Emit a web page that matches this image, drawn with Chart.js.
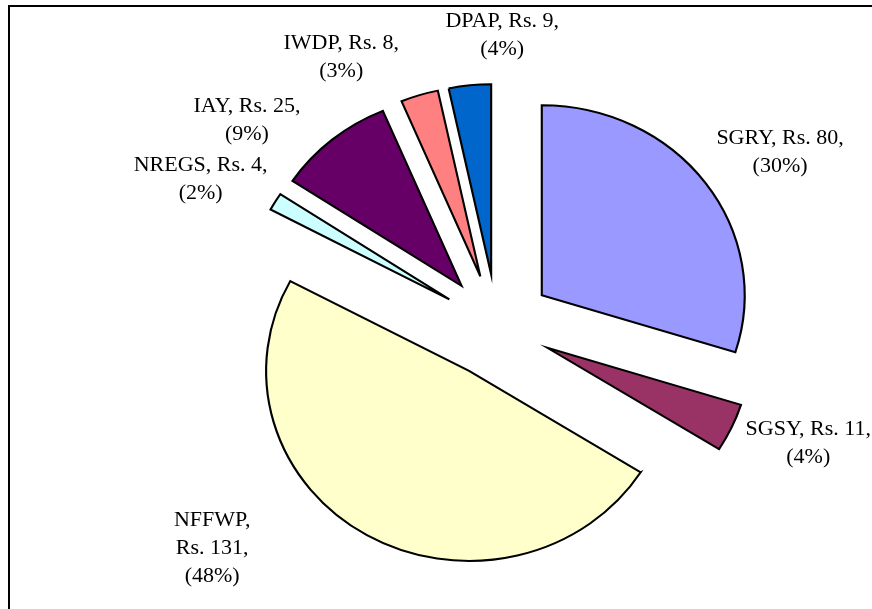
<!DOCTYPE html>
<html>
<head>
<meta charset="utf-8">
<script src="https://cdn.jsdelivr.net/npm/chart.js@4.4.1/dist/chart.umd.min.js"></script>
<style>
  html, body { margin: 0; padding: 0; background: #fff; overflow: hidden; }
  #wrap { position: relative; width: 872px; height: 609px; }
  #frame { position: absolute; left: 8px; top: 5px; width: 900px; height: 700px; border: 2px solid #000; }
  canvas { position: absolute; left: 0; top: 0; }
</style>
</head>
<body>
<div id="wrap">
  <div id="frame"></div>
  <canvas id="pie" width="872" height="609"></canvas>
</div>
<script>
// Spesa per programma (Rs.), fetta per fetta a partire da ore 12 in senso orario
const schemes = ["SGRY", "SGSY", "NFFWP", "NREGS", "IAY", "IWDP", "DPAP"];
const amounts = [80, 11, 131, 4, 25, 8, 9];
const shares = [30, 4, 48, 2, 9, 3, 4]; // percentuali come stampate sul grafico
const sliceColors = ["#9999FF", "#993366", "#FFFFCC", "#CCFFFF", "#660066", "#FF8080", "#0066CC"];

const RADIUS = 190;
const EXPLODE = 52;      // spostamento di ogni fetta, px
const X_STRETCH = 1.068; // il pie originale e' leggermente ellittico
// posizione delle etichette: [scarto angolo in gradi, distanza dal centro]
const LABEL_PLACE = [[3, 317], [-3, 314], [20, 347], [-3, 314], [-9, 312], [-11, 306], [7, 291]];

function labelLines(i) {
  if (schemes[i] === "NFFWP") {
    return [`${schemes[i]},`, `Rs. ${amounts[i]},`, `(${shares[i]}%)`];
  }
  return [`${schemes[i]}, Rs. ${amounts[i]},`, `(${shares[i]}%)`];
}

// L'offset nativo di Chart.js (pensato per l'hover) restringe le fette piccole,
// quindi l'esplosione stile Excel la facciamo qui: ogni arco viene spostato
// lungo la bisettrice e poi disegnato dal suo stesso elemento.
const excelPie = {
  id: "excelPie",
  beforeDatasetsDraw(chart) {
    const ctx = chart.ctx;
    const arcs = chart.getDatasetMeta(0).data;
    const cx = arcs[0].x, cy = arcs[0].y;
    ctx.save();
    ctx.translate(cx, cy);
    ctx.scale(X_STRETCH, 1);
    ctx.translate(-cx, -cy);
    arcs.forEach(a => {
      const half = (a.startAngle + a.endAngle) / 2;
      ctx.save();
      ctx.translate(Math.cos(half) * EXPLODE, Math.sin(half) * EXPLODE);
      a.draw(ctx);
      ctx.restore();
    });
    ctx.restore();

    ctx.save();
    ctx.fillStyle = "#000";
    ctx.font = '22px "Liberation Serif", "Times New Roman", serif';
    ctx.textAlign = "center";
    ctx.textBaseline = "middle";
    arcs.forEach((a, i) => {
      const mid = (a.startAngle + a.endAngle) / 2 + LABEL_PLACE[i][0] * Math.PI / 180;
      const dist = LABEL_PLACE[i][1];
      const x = cx + Math.cos(mid) * dist * X_STRETCH;
      const y = cy + Math.sin(mid) * dist;
      const lines = labelLines(i);
      const lh = 28;
      const y0 = y - (lines.length - 1) * lh / 2;
      lines.forEach((t, k) => ctx.fillText(t, x, y0 + k * lh));
    });
    ctx.restore();
    return false;
  }
};

new Chart(document.getElementById("pie"), {
  type: "pie",
  data: {
    labels: schemes,
    datasets: [{
      data: amounts,
      backgroundColor: sliceColors,
      borderColor: "#000",
      borderWidth: 2,
      borderJoinStyle: "miter",
    }],
  },
  options: {
    responsive: false,
    animation: false,
    radius: RADIUS,
    layout: { padding: { left: 122, top: 43, right: 0, bottom: 0 } },
    plugins: { legend: { display: false }, tooltip: { enabled: false } },
  },
  plugins: [excelPie],
});
</script>
</body>
</html>
